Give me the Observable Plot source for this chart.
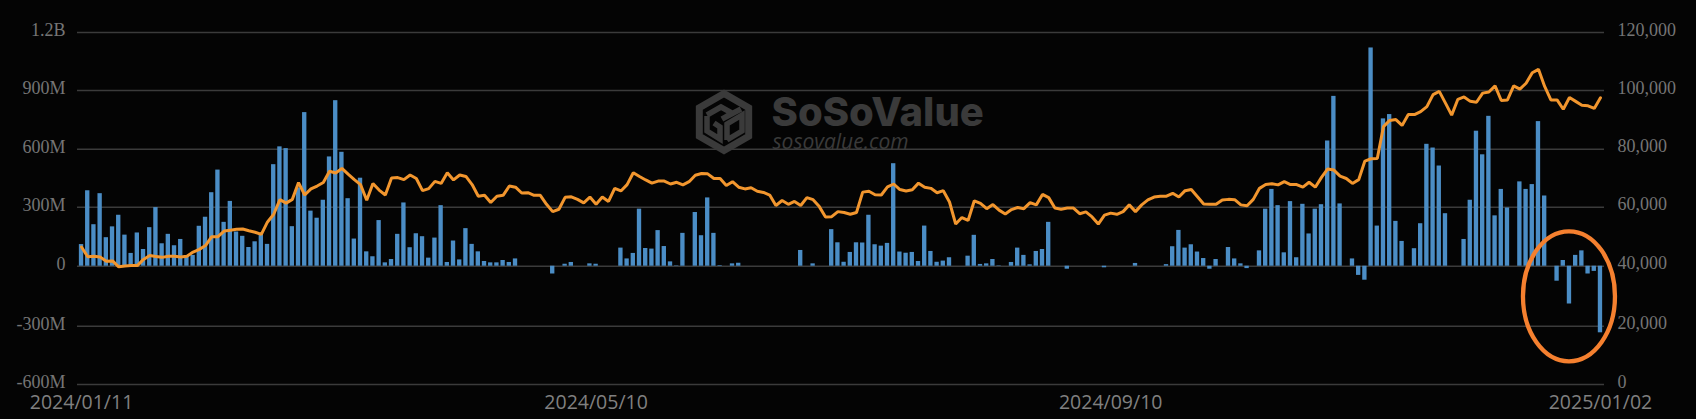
<!DOCTYPE html>
<html>
<head>
<meta charset="utf-8">
<script src="https://cdn.jsdelivr.net/npm/d3@7"></script>
<script src="https://cdn.jsdelivr.net/npm/@observablehq/plot@0.6"></script>
<style>
html,body{margin:0;padding:0;background:#040404;overflow:hidden}
svg{display:block}
</style>
</head>
<body>
<div id="chart"></div>
<script>
// Daily net flow, $ millions, one value per trading session
const netFlowM = [
110,385,211,370,145,200,259,158,65,169,
85,196,298,114,162,104,136,50,55,203,
249,375,492,223,330,174,152,95,124,165,
111,520,612,603,201,400,787,280,244,336,
560,848,584,344,138,450,73,48,232,17,
34,162,322,94,165,150,41,143,308,19,
128,32,191,111,73,24,17,17,29,19,
37,0,0,0,0,0,-39,0,10,19,
0,0,12,10,0,0,0,92,37,65,
290,90,87,181,100,22,2,167,0,273,
155,348,167,3,0,12,15,0,0,0,
0,0,0,0,0,0,80,0,12,0,
0,186,119,20,70,119,118,259,109,102,
116,525,72,66,70,24,204,75,20,26,
43,0,0,51,157,9,12,34,2,0,
19,92,55,7,75,85,223,0,0,-15,
0,0,0,0,0,-8,0,0,0,0,
14,0,0,0,0,8,99,182,92,109,
72,39,-15,34,0,95,37,12,-12,0,
78,290,392,308,68,329,43,315,164,290,
313,642,870,317,0,37,-46,-70,1120,204,
755,777,228,126,0,89,216,625,606,513,
267,0,0,136,336,692,571,768,256,392,
296,0,431,392,417,741,358,0,-75,29,
-189,55,78,-39,-26,-334];

// Bitcoin price, thousands of USD, same sessions
const btcPriceK = [
46.5,43.2,43.4,43.1,41.7,41.8,39.8,40.1,40.2,40.2,
42.3,43.6,43.3,43.0,43.4,43.4,43.1,43.4,44.8,45.7,
47.0,50.0,50.0,51.9,52.2,52.5,52.6,52.0,51.5,50.8,
55.0,57.6,62.6,61.4,62.7,68.5,64.2,66.3,67.3,68.5,
72.4,71.8,73.4,71.4,69.5,67.8,62.4,68.2,65.9,64.2,
70.1,70.2,69.5,71.1,69.9,65.7,66.4,68.9,68.2,71.9,
69.4,71.1,70.6,67.8,63.8,64.1,61.6,63.8,64.1,67.3,
66.9,64.9,65.0,64.1,64.1,61.0,58.5,59.3,63.4,63.6,
62.7,61.5,63.5,61.0,63.5,62.0,66.5,65.6,67.8,71.9,
70.6,69.4,68.3,69.0,69.0,68.0,68.6,67.7,68.8,71.0,
71.6,71.5,69.9,69.9,67.5,68.8,66.9,66.3,66.7,65.5,
65.1,64.2,60.6,62.3,61.0,62.0,60.6,63.3,62.6,60.2,
56.7,56.8,58.5,58.2,57.6,58.2,65.2,65.5,64.3,64.2,
67.0,68.0,66.1,65.6,66.0,68.3,66.9,66.5,65.0,65.7,
61.8,54.3,56.5,55.5,62.2,61.3,59.5,60.9,59.0,57.7,
59.2,59.9,59.5,61.6,60.8,64.4,63.3,59.7,59.3,59.7,
59.7,57.8,58.4,56.7,54.3,57.3,58.0,57.6,58.5,60.8,
58.5,60.8,62.5,63.5,63.8,63.8,64.8,63.5,65.7,66.1,
63.6,61.1,61.0,61.0,62.5,62.7,62.6,60.8,60.5,62.7,
66.5,67.8,68.1,67.7,68.8,67.8,67.8,66.9,68.6,66.9,
70.3,73.2,72.8,70.7,69.9,68.2,69.5,75.9,76.7,76.8,
87.7,89.8,90.1,88.1,91.8,91.8,92.8,94.5,98.6,99.7,
95.7,91.6,97.0,97.8,96.3,96.0,99.1,99.5,101.6,96.6,
96.8,101.6,100.5,102.5,106.1,107.3,101.4,96.8,96.8,93.6,
97.6,96.3,95.0,94.8,93.9,97.5];

const flowTicks = [-600,-300,0,300,600,900,1200];
const flowLabels = ["-600M","-300M","0","300M","600M","900M","1.2B"];
const priceLabels = ["0","20,000","40,000","60,000","80,000","100,000","120,000"];
const dateTickSessions = [0,83,166,245];
const dateLabels = ["2024/01/11","2024/05/10","2024/09/10","2025/01/02"];

const rows = netFlowM.map((flow,i)=>({i,flow,price:btcPriceK[i]}));
// The price axis shares the flow axis's gridlines: 0–120k ↔ -600M–1.2B
const priceToFlow = k => k*15-600;
const GRID="#3b3b3b", TICK="#757575", MARK="#3a3a3a";
const serif='"Liberation Serif",serif';

function logo(index,scales,values,dim){
  const g=d3.create("svg:g").attr("fill","none").attr("stroke",MARK).attr("stroke-linejoin","miter");
  const cx=724,cy=122,R=28.5;
  const hex=d3.range(6).map(k=>{const a=Math.PI/3*k-Math.PI/2;return [cx+R*Math.cos(a),cy+R*Math.sin(a)]});
  g.append("path").attr("d","M"+hex.join("L")+"Z").attr("stroke-width",7);
  g.append("path").attr("stroke-width",5.5).attr("d",
    `M${cx-17},${cy-7}L${cx-3},${cy-15}L${cx+8},${cy-9}L${cx-2},${cy-3}L${cx+17},${cy-13}
     M${cx-17},${cy-6}L${cx-17},${cy+9}L${cx-4},${cy+17}L${cx-4},${cy+5}L${cx-10},${cy+1}
     M${cx+3},${cy+18}L${cx+3},${cy+2}L${cx+18},${cy-7}L${cx+18},${cy+9}L${cx+3},${cy+18}`);
  return g.node();
}
function ring(index,{x,y}){
  return d3.create("svg:ellipse")
    .attr("cx",x(240)+x.bandwidth()/2).attr("cy",y(-153))
    .attr("rx",46).attr("ry",65)
    .attr("fill","none").attr("stroke","#f5802f").attr("stroke-width",4.3)
    .node();
}

const chart = Plot.plot({
  width:1696,height:419,
  marginLeft:77,marginRight:92,marginTop:32,marginBottom:35,
  style:{background:"#040404"},
  x:{type:"band",domain:d3.range(netFlowM.length),padding:0.3,align:0.5,axis:null},
  y:{type:"linear",domain:flowTicks,range:[384,325.7,265.7,206.7,148.7,90,32],axis:null},
  marks:[
    Plot.ruleY(flowTicks,{stroke:GRID,strokeWidth:1.5}),
    logo,
    Plot.text(["SoSoValue"],{frameAnchor:"top-left",dx:694,dy:81,textAnchor:"start",lineAnchor:"middle",fontFamily:"Inter",fontWeight:800,fontSize:40,fill:MARK,
      text:d=>d}),
    Plot.text(["sosovalue.com"],{frameAnchor:"top-left",dx:695,dy:110,textAnchor:"start",lineAnchor:"middle",fontFamily:'"Open Sans"',fontStyle:"italic",fontSize:21,fill:MARK,
      text:d=>d}),
    Plot.barY(rows,{x:"i",y:"flow",fill:"#4b8dc5"}),
    Plot.line(rows,{x:"i",y:d=>priceToFlow(d.price),stroke:"#f2962e",strokeWidth:3,strokeLinejoin:"miter"}),
    ring,
    Plot.axisY({ticks:flowTicks,anchor:"left",tickSize:0,tickPadding:12,label:null,
      tickFormat:d=>flowLabels[flowTicks.indexOf(d)],fontFamily:serif,fontSize:18,fill:TICK,dy:-2}),
    Plot.axisY({ticks:flowTicks,anchor:"right",tickSize:0,tickPadding:13,label:null,
      tickFormat:d=>priceLabels[flowTicks.indexOf(d)],fontFamily:serif,fontSize:18,fill:TICK,dy:-2.5}),
    Plot.axisX({ticks:dateTickSessions,anchor:"bottom",tickSize:0,tickPadding:11,label:null,
      tickFormat:d=>dateLabels[dateTickSessions.indexOf(d)],fontFamily:'"Open Sans"',fontSize:19.5,fill:"#808080"})
  ]
});
document.getElementById("chart").appendChild(chart);
</script>
</body>
</html>
